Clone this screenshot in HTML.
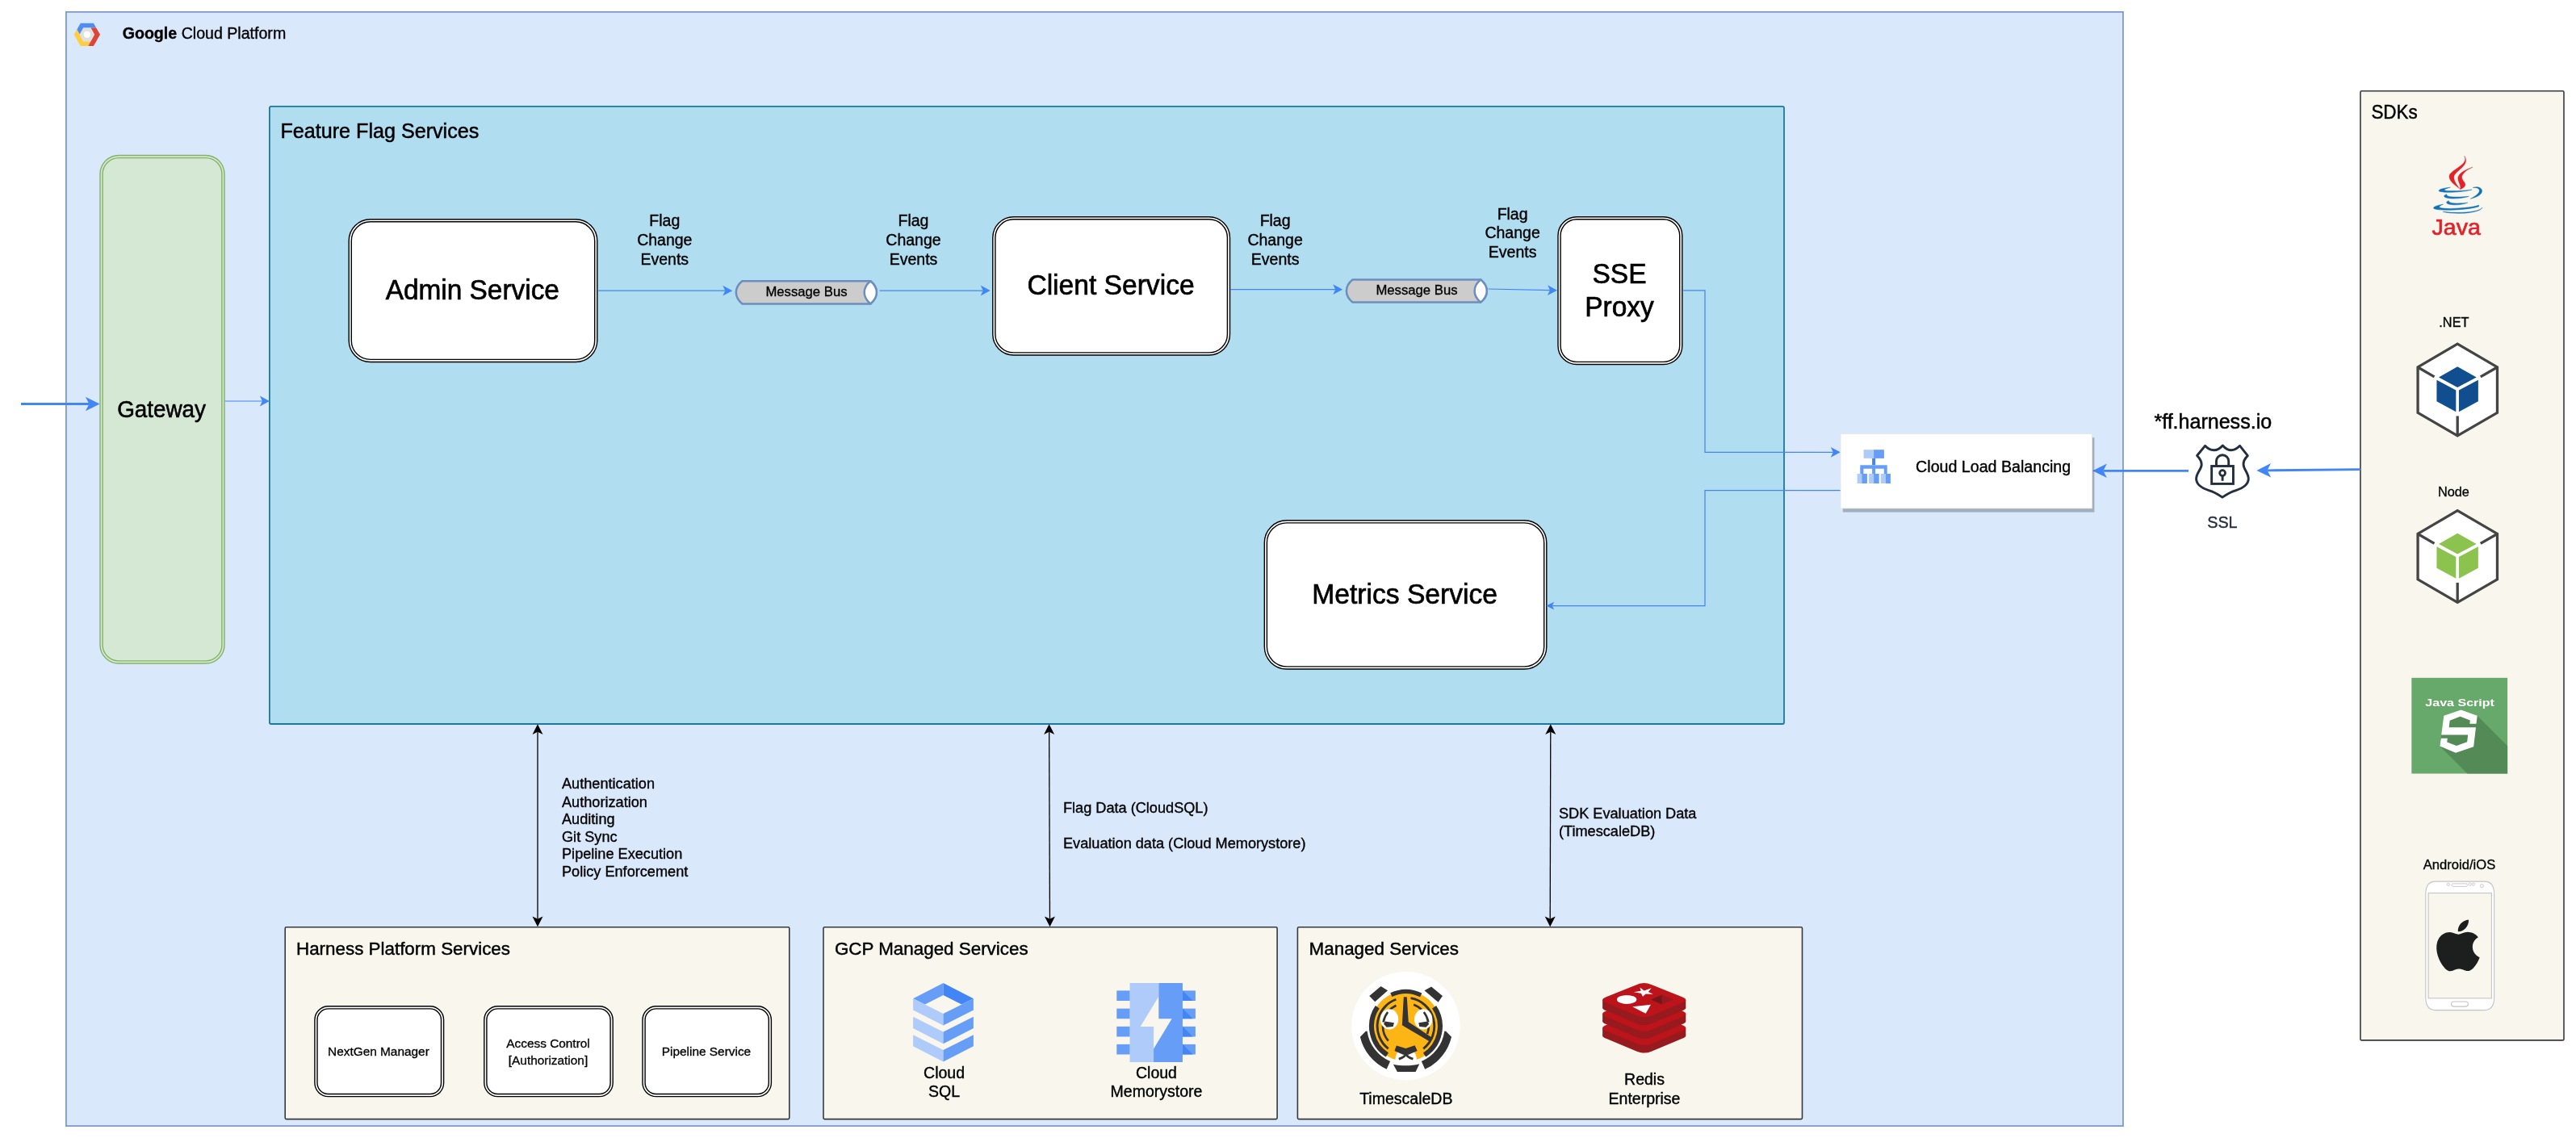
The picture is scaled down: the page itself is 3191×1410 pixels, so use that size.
<!DOCTYPE html>
<html lang="en"><head><meta charset="utf-8"><title>Feature Flags Architecture</title>
<style>
html,body{margin:0;padding:0;background:#fff;}
body{width:3191px;height:1410px;overflow:hidden;}
svg{display:block;font-family:"Liberation Sans", sans-serif;will-change:transform;}
</style></head><body>
<svg width="3191" height="1410" viewBox="0 0 3191 1410">
<rect x="81.90" y="14.80" width="2548.05" height="1380.30" fill="#dae8fc" stroke="#7896c8" stroke-width="1.7" />
<rect x="333.90" y="131.90" width="1876.10" height="765.10" fill="#b1ddf0" stroke="#1a78a2" stroke-width="1.8" rx="2"/>
<rect x="2923.95" y="112.80" width="252.05" height="1176.10" fill="#f9f7ed" stroke="#36393d" stroke-width="1.6" rx="1.5"/>
<rect x="353.20" y="1148.70" width="624.60" height="237.90" fill="#f9f7ed" stroke="#36393d" stroke-width="1.6" rx="1.5"/>
<rect x="1020.00" y="1148.70" width="562.10" height="237.90" fill="#f9f7ed" stroke="#36393d" stroke-width="1.6" rx="1.5"/>
<rect x="1607.40" y="1148.70" width="625.10" height="237.90" fill="#f9f7ed" stroke="#36393d" stroke-width="1.6" rx="1.5"/>
<polygon points="112.42,34.40 119.18,34.40 115.92,28.70 99.77,28.70 95.29,36.56 98.70,42.85 103.27,34.40" fill="#4f8df0" />
<polygon points="98.70,42.85 95.29,36.56 91.70,42.85 99.77,57.00 109.34,57.00 112.42,51.30 103.27,51.30" fill="#ffcd42" />
<polygon points="112.42,51.30 109.34,57.00 115.92,57.00 124.00,42.85 119.18,34.40 112.42,34.40 117.00,42.85" fill="#de4538" />
<polygon points="98.70,42.85 103.27,34.40 112.42,34.40 117.00,42.85 112.42,51.30 103.27,51.30" fill="#e0e0e0" />
<circle cx="107.85" cy="42.75" r="4.1" fill="#fff"/>
<text x="151.7" y="47.8" font-size="19.6" stroke="#000" stroke-width="0.35"><tspan font-weight="bold">Google</tspan> Cloud Platform</text>
<text transform="translate(347.40,171.10) scale(1,1.015)" font-size="25.15" text-anchor="start" fill="#000" stroke="#000" stroke-width="0.50" >Feature Flag Services</text>
<rect x="124.00" y="192.50" width="154.00" height="629.50" rx="23.10" fill="#d5e8d4" stroke="#82b366" stroke-width="1.4"/>
<rect x="127.10" y="195.60" width="147.80" height="623.30" rx="20.00" fill="#d5e8d4" stroke="#82b366" stroke-width="1.4"/>
<text transform="translate(200.10,517.20) scale(1,1.06)" font-size="27.85" text-anchor="middle" fill="#000" stroke="#000" stroke-width="0.56" >Gateway</text>
<rect x="432.20" y="271.70" width="307.60" height="176.80" rx="26.52" fill="#fff" stroke="#000" stroke-width="1.4"/>
<rect x="435.30" y="274.80" width="301.40" height="170.60" rx="23.42" fill="#fff" stroke="#000" stroke-width="1.4"/>
<text transform="translate(585.30,371.10) scale(1,1.04)" font-size="33.4" text-anchor="middle" fill="#000" stroke="#000" stroke-width="0.67" >Admin Service</text>
<rect x="1229.80" y="268.70" width="293.70" height="171.30" rx="25.70" fill="#fff" stroke="#000" stroke-width="1.4"/>
<rect x="1232.90" y="271.80" width="287.50" height="165.10" rx="22.59" fill="#fff" stroke="#000" stroke-width="1.4"/>
<text transform="translate(1376.00,364.90) scale(1,1.04)" font-size="33.6" text-anchor="middle" fill="#000" stroke="#000" stroke-width="0.67" >Client Service</text>
<rect x="1930.00" y="268.70" width="153.80" height="182.80" rx="23.07" fill="#fff" stroke="#000" stroke-width="1.4"/>
<rect x="1933.10" y="271.80" width="147.60" height="176.60" rx="19.97" fill="#fff" stroke="#000" stroke-width="1.4"/>
<text transform="translate(2006.00,351.30) scale(1,1.04)" font-size="33.5" text-anchor="middle" fill="#000" stroke="#000" stroke-width="0.67" >SSE</text>
<text transform="translate(2006.00,391.70) scale(1,1.04)" font-size="33.5" text-anchor="middle" fill="#000" stroke="#000" stroke-width="0.67" >Proxy</text>
<rect x="1566.30" y="644.80" width="349.50" height="184.20" rx="27.63" fill="#fff" stroke="#000" stroke-width="1.4"/>
<rect x="1569.40" y="647.90" width="343.30" height="178.00" rx="24.53" fill="#fff" stroke="#000" stroke-width="1.4"/>
<text transform="translate(1740.10,748.30) scale(1,1.04)" font-size="33.65" text-anchor="middle" fill="#000" stroke="#000" stroke-width="0.67" >Metrics Service</text>
<text x="823.30" y="280.00" font-size="19.5" text-anchor="middle" fill="#000" stroke="#000" stroke-width="0.39" >Flag</text>
<text x="823.30" y="303.70" font-size="19.5" text-anchor="middle" fill="#000" stroke="#000" stroke-width="0.39" >Change</text>
<text x="823.30" y="328.10" font-size="19.5" text-anchor="middle" fill="#000" stroke="#000" stroke-width="0.39" >Events</text>
<text x="1131.50" y="280.00" font-size="19.5" text-anchor="middle" fill="#000" stroke="#000" stroke-width="0.39" >Flag</text>
<text x="1131.50" y="303.70" font-size="19.5" text-anchor="middle" fill="#000" stroke="#000" stroke-width="0.39" >Change</text>
<text x="1131.50" y="328.10" font-size="19.5" text-anchor="middle" fill="#000" stroke="#000" stroke-width="0.39" >Events</text>
<text x="1579.60" y="280.00" font-size="19.5" text-anchor="middle" fill="#000" stroke="#000" stroke-width="0.39" >Flag</text>
<text x="1579.60" y="303.70" font-size="19.5" text-anchor="middle" fill="#000" stroke="#000" stroke-width="0.39" >Change</text>
<text x="1579.60" y="328.10" font-size="19.5" text-anchor="middle" fill="#000" stroke="#000" stroke-width="0.39" >Events</text>
<text x="1873.60" y="271.50" font-size="19.5" text-anchor="middle" fill="#000" stroke="#000" stroke-width="0.39" >Flag</text>
<text x="1873.60" y="295.20" font-size="19.5" text-anchor="middle" fill="#000" stroke="#000" stroke-width="0.39" >Change</text>
<text x="1873.60" y="318.90" font-size="19.5" text-anchor="middle" fill="#000" stroke="#000" stroke-width="0.39" >Events</text>
<path d="M919.40,348.30 L1078.30,348.30 C1082.86,351.95 1085.90,356.73 1085.90,362.35 C1085.90,367.97 1082.86,372.75 1078.30,376.40  L919.40,376.40 C914.84,372.75 911.80,367.97 911.80,362.35 C911.80,356.73 914.84,351.95 919.40,348.30  Z" fill="#cccccc" stroke="#6c8ebf" stroke-width="2.5" stroke-linejoin="round"/>
<path d="M1078.30,348.30 C1082.86,351.95 1085.90,356.73 1085.90,362.35 C1085.90,367.97 1082.86,372.75 1078.30,376.40  C1073.74,372.75 1070.70,367.97 1070.70,362.35 C1070.70,356.73 1073.74,351.95 1078.30,348.30  Z" fill="#fff" stroke="#6c8ebf" stroke-width="2.5" stroke-linejoin="round"/>
<text x="999.00" y="367.00" font-size="16.7" text-anchor="middle" fill="#000" stroke="#000" stroke-width="0.33" >Message Bus</text>
<path d="M1675.50,346.50 L1834.20,346.50 C1838.76,350.14 1841.80,354.90 1841.80,360.50 C1841.80,366.10 1838.76,370.86 1834.20,374.50  L1675.50,374.50 C1670.94,370.86 1667.90,366.10 1667.90,360.50 C1667.90,354.90 1670.94,350.14 1675.50,346.50  Z" fill="#cccccc" stroke="#6c8ebf" stroke-width="2.5" stroke-linejoin="round"/>
<path d="M1834.20,346.50 C1838.76,350.14 1841.80,354.90 1841.80,360.50 C1841.80,366.10 1838.76,370.86 1834.20,374.50  C1829.64,370.86 1826.60,366.10 1826.60,360.50 C1826.60,354.90 1829.64,350.14 1834.20,346.50  Z" fill="#fff" stroke="#6c8ebf" stroke-width="2.5" stroke-linejoin="round"/>
<text x="1755.00" y="364.90" font-size="16.7" text-anchor="middle" fill="#000" stroke="#000" stroke-width="0.33" >Message Bus</text>
<polyline points="740.40,360.10 898.30,360.19" fill="none" stroke="#4285f4" stroke-width="1.24" stroke-linejoin="miter"/>
<polygon points="907.30,360.20 895.30,366.59 898.30,360.19 895.30,353.79" fill="#4285f4"/>
<polyline points="1089.50,360.20 1217.70,360.01" fill="none" stroke="#4285f4" stroke-width="1.24" stroke-linejoin="miter"/>
<polygon points="1226.70,360.00 1214.71,366.42 1217.70,360.01 1214.69,353.62" fill="#4285f4"/>
<polyline points="1524.10,358.60 1654.20,358.69" fill="none" stroke="#4285f4" stroke-width="1.24" stroke-linejoin="miter"/>
<polygon points="1663.20,358.70 1651.20,365.09 1654.20,358.69 1651.20,352.29" fill="#4285f4"/>
<polyline points="1843.50,358.00 1920.00,359.61" fill="none" stroke="#4285f4" stroke-width="1.24" stroke-linejoin="miter"/>
<polygon points="1929.00,359.80 1916.87,365.95 1920.00,359.61 1917.14,353.15" fill="#4285f4"/>
<polyline points="278.60,497.00 324.90,497.00" fill="none" stroke="#4285f4" stroke-width="1.24" stroke-linejoin="miter"/>
<polygon points="333.90,497.00 321.90,503.40 324.90,497.00 321.90,490.60" fill="#4285f4"/>
<polyline points="2084.40,359.80 2112.00,359.80 2112.00,560.30 2270.80,560.30" fill="none" stroke="#4285f4" stroke-width="1.24" stroke-linejoin="miter"/>
<polygon points="2279.80,560.30 2267.80,566.70 2270.80,560.30 2267.80,553.90" fill="#4285f4"/>
<polyline points="2280.00,607.60 2112.00,607.60 2112.00,750.60 1922.80,750.60" fill="none" stroke="#4285f4" stroke-width="1.24" stroke-linejoin="miter"/>
<polygon points="1915.40,750.60 1925.20,745.70 1922.80,750.60 1925.20,755.50" fill="#4285f4"/>
<polyline points="26.00,500.50 110.40,500.50" fill="none" stroke="#4285f4" stroke-width="2.8" stroke-linejoin="miter"/>
<polygon points="123.60,500.50 105.90,509.30 110.40,500.50 105.90,491.70" fill="#4285f4"/>
<polyline points="2711.00,583.30 2605.40,583.30" fill="none" stroke="#4285f4" stroke-width="2.8" stroke-linejoin="miter"/>
<polygon points="2592.20,583.30 2609.90,574.50 2605.40,583.30 2609.90,592.10" fill="#4285f4"/>
<polyline points="2924.00,581.60 2808.60,582.86" fill="none" stroke="#4285f4" stroke-width="2.8" stroke-linejoin="miter"/>
<polygon points="2795.40,583.00 2813.00,574.01 2808.60,582.86 2813.19,591.61" fill="#4285f4"/>
<polyline points="666.00,906.80 666.00,1138.60" fill="none" stroke="#000" stroke-width="1.3" stroke-linejoin="miter"/>
<polygon points="666.00,1148.20 659.50,1135.40 666.00,1138.60 672.50,1135.40" fill="#000"/>
<polygon points="666.00,897.20 672.50,910.00 666.00,906.80 659.50,910.00" fill="#000"/>
<polyline points="1299.63,906.80 1300.47,1138.60" fill="none" stroke="#000" stroke-width="1.3" stroke-linejoin="miter"/>
<polygon points="1300.50,1148.20 1293.95,1135.42 1300.47,1138.60 1306.95,1135.38" fill="#000"/>
<polygon points="1299.60,897.20 1306.15,909.98 1299.63,906.80 1293.15,910.02" fill="#000"/>
<polyline points="1920.78,906.80 1920.22,1138.60" fill="none" stroke="#000" stroke-width="1.3" stroke-linejoin="miter"/>
<polygon points="1920.20,1148.20 1913.73,1135.38 1920.22,1138.60 1926.73,1135.42" fill="#000"/>
<polygon points="1920.80,897.20 1927.27,910.02 1920.78,906.80 1914.27,909.98" fill="#000"/>
<rect x="2282.8" y="542.2" width="311.6" height="92.4" fill="#000" opacity="0.25"/>
<rect x="2280.00" y="537.50" width="311.60" height="92.40" fill="#fff" stroke="#e4e4e4" stroke-width="0.8" />
<rect x="2308.60" y="557.20" width="12.50" height="10.70" fill="#aecbfa"/>
<rect x="2321.10" y="557.20" width="12.80" height="10.70" fill="#669df6"/>
<rect x="2319.10" y="567.90" width="4.00" height="8.40" fill="#4285f4"/>
<rect x="2304.30" y="576.30" width="33.40" height="4.40" fill="#669df6"/>
<rect x="2304.30" y="580.00" width="4.10" height="7.50" fill="#669df6"/>
<rect x="2319.10" y="580.00" width="4.00" height="7.50" fill="#669df6"/>
<rect x="2333.80" y="580.00" width="3.90" height="7.50" fill="#669df6"/>
<rect x="2300.60" y="587.00" width="5.70" height="12.00" fill="#aecbfa"/>
<rect x="2306.30" y="587.00" width="6.60" height="12.00" fill="#669df6"/>
<rect x="2315.10" y="587.00" width="6.00" height="12.00" fill="#aecbfa"/>
<rect x="2321.10" y="587.00" width="6.60" height="12.00" fill="#669df6"/>
<rect x="2329.70" y="587.00" width="6.30" height="12.00" fill="#aecbfa"/>
<rect x="2336.00" y="587.00" width="5.90" height="12.00" fill="#669df6"/>
<text x="2373.10" y="585.00" font-size="19.64" text-anchor="start" fill="#000" stroke="#000" stroke-width="0.39" >Cloud Load Balancing</text>
<text x="2668.40" y="531.30" font-size="25.05" text-anchor="start" fill="#000" stroke="#000" stroke-width="0.50" >*ff.harness.io</text>
<path d="M2753.32,551.95 C2756.30,555.31 2760.78,557.77 2763.92,557.77 C2767.88,557.77 2771.99,554.94 2774.60,552.32 L2784.31,564.65 C2780.20,568.75 2778.71,572.11 2779.08,575.85 C2779.45,581.82 2785.43,586.30 2785.28,593.40 C2785.06,599.75 2778.71,604.97 2769.75,607.59 C2763.02,609.45 2757.80,612.82 2752.94,616.18 C2748.09,612.82 2742.86,609.45 2736.14,607.59 C2727.18,604.97 2720.83,599.75 2720.60,593.40 C2720.46,586.30 2726.80,581.82 2727.18,575.85 C2727.40,572.11 2725.68,568.75 2721.58,564.50 L2731.51,552.32 C2733.90,554.94 2738.38,557.77 2742.49,557.77 C2745.70,557.77 2750.33,555.31 2753.32,551.95 Z" fill="none" stroke="#232f3e" stroke-width="2.9" stroke-linejoin="round"/>
<rect x="2739.65" y="577.49" width="26.81" height="21.96" fill="none" stroke="#232f3e" stroke-width="2.9"/>
<path d="M2745.47,576.97 L2745.47,571.37 A7.62,7.62 0 0 1 2760.71,571.37 L2760.71,576.97" fill="none" stroke="#232f3e" stroke-width="2.9"/>
<circle cx="2753.09" cy="586.08" r="3.44" fill="none" stroke="#232f3e" stroke-width="2.76"/>
<line x1="2753.09" y1="590.04" x2="2753.09" y2="595.79" stroke="#232f3e" stroke-width="2.9"/>
<text x="2752.90" y="653.70" font-size="19.8" text-anchor="middle" fill="#232f3e" stroke="#232f3e" stroke-width="0.40" >SSL</text>
<text transform="translate(2937.40,146.70) scale(1,1.07)" font-size="22.4" text-anchor="start" fill="#000" stroke="#000" stroke-width="0.45" >SDKs</text>
<path d="M3052.75,193.23 C3060.67,205.05 3040.62,211.90 3039.88,218.76 C3039.25,224.04 3043.26,228.79 3046.95,233.74 C3041.68,229.84 3033.76,224.57 3033.97,218.55 C3034.29,210.32 3059.08,204.52 3052.75,193.23 Z" fill="#e2222a" stroke="#e2222a" stroke-width="0.4"/>
<path d="M3063.09,207.16 C3054.86,210.32 3049.59,215.60 3049.59,219.82 C3049.59,223.51 3054.34,226.15 3053.81,229.31 C3053.60,231.42 3050.64,233.53 3047.27,234.80 C3049.59,230.37 3044.31,225.62 3044.84,220.35 C3045.37,215.07 3052.75,210.32 3063.09,207.16 Z" fill="#e2222a" stroke="#e2222a" stroke-width="0.4"/>
<path d="M3035.35,232.16 C3026.38,233.01 3020.89,234.59 3021.10,236.49 C3022.16,239.02 3047.48,239.02 3062.04,235.01 C3050.64,236.70 3029.54,237.33 3028.06,235.43 C3027.64,234.38 3031.65,233.01 3035.35,232.16 Z" fill="#1272b8" stroke="#1272b8" stroke-width="0.5"/>
<path d="M3063.30,232.48 C3068.58,230.58 3075.12,232.27 3074.49,237.23 C3073.86,241.45 3067.52,244.72 3060.35,246.19 C3067.52,242.50 3071.75,238.81 3071.32,235.64 C3070.90,233.01 3067.52,232.27 3063.30,232.48 Z" fill="#1272b8" stroke="#1272b8" stroke-width="0.5"/>
<path d="M3030.81,240.71 C3027.22,241.97 3026.59,243.66 3029.54,244.72 C3035.87,247.04 3050.64,245.98 3058.24,243.35 C3050.64,244.30 3034.82,244.51 3032.50,243.03 C3031.23,242.50 3030.60,241.55 3030.81,240.71 Z" fill="#1272b8" stroke="#1272b8" stroke-width="0.5"/>
<path d="M3033.34,248.73 C3029.96,249.78 3029.75,251.68 3032.71,252.74 C3039.04,254.85 3050.64,253.79 3056.76,251.05 C3050.64,252.10 3039.04,252.52 3035.45,250.94 C3033.97,250.41 3033.34,249.57 3033.34,248.73 Z" fill="#1272b8" stroke="#1272b8" stroke-width="0.5"/>
<path d="M3026.38,253.16 C3018.99,254.42 3013.93,256.11 3014.56,258.01 C3015.83,261.39 3052.75,261.18 3070.48,255.90 C3070.90,255.27 3070.69,254.63 3070.27,254.00 C3067.52,256.75 3034.82,259.70 3024.48,257.80 C3020.26,256.96 3021.10,255.06 3026.38,253.16 Z" fill="#1272b8" stroke="#1272b8" stroke-width="0.5"/>
<path d="M3026.17,262.34 C3042.20,266.45 3072.17,263.92 3074.91,257.17 C3071.75,262.65 3047.48,264.76 3026.17,262.34 Z" fill="#1272b8" stroke="#1272b8" stroke-width="0.5"/>
<text x="3012.60" y="291.00" font-size="28.5" text-anchor="start" fill="#e2222a" stroke="#e2222a" stroke-width="0.7">Java</text>
<text x="3039.90" y="404.80" font-size="16.3" text-anchor="middle" fill="#000" stroke="#000" stroke-width="0.33" >.NET</text>
<polygon points="3044.20,426.16 3093.48,454.86 3093.48,511.38 3044.20,539.93 2995.07,511.38 2995.07,454.86" fill="#fff" stroke="#444" stroke-width="3.3" stroke-linejoin="miter"/>
<line x1="2995.07" y1="455.00" x2="3015.51" y2="466.88" stroke="#444" stroke-width="3.3"/>
<line x1="3093.48" y1="455.00" x2="3072.75" y2="466.88" stroke="#444" stroke-width="3.3"/>
<line x1="3044.20" y1="539.49" x2="3044.20" y2="515.43" stroke="#444" stroke-width="3.3"/>
<polygon points="3044.20,454.28 3067.68,467.61 3044.20,479.93 3021.01,467.61" fill="#104e90" />
<polygon points="3018.41,470.80 3042.32,483.55 3042.32,510.36 3018.41,497.32" fill="#104e90" />
<polygon points="3045.94,483.55 3069.86,470.80 3069.86,497.32 3045.94,510.36" fill="#104e90" />
<text x="3039.40" y="615.00" font-size="16.3" text-anchor="middle" fill="#000" stroke="#000" stroke-width="0.33" >Node</text>
<polygon points="3044.20,632.66 3093.48,661.36 3093.48,717.88 3044.20,746.43 2995.07,717.88 2995.07,661.36" fill="#fff" stroke="#444" stroke-width="3.3" stroke-linejoin="miter"/>
<line x1="2995.07" y1="661.50" x2="3015.51" y2="673.38" stroke="#444" stroke-width="3.3"/>
<line x1="3093.48" y1="661.50" x2="3072.75" y2="673.38" stroke="#444" stroke-width="3.3"/>
<line x1="3044.20" y1="745.99" x2="3044.20" y2="721.93" stroke="#444" stroke-width="3.3"/>
<polygon points="3044.20,660.78 3067.68,674.11 3044.20,686.43 3021.01,674.11" fill="#8cc34f" />
<polygon points="3018.41,677.30 3042.32,690.05 3042.32,716.86 3018.41,703.82" fill="#8cc34f" />
<polygon points="3045.94,690.05 3069.86,677.30 3069.86,703.82 3045.94,716.86" fill="#8cc34f" />
<rect x="2987.30" y="839.84" width="118.80" height="118.68" fill="#67a96b"/>
<polygon points="3027.27,886.82 3048.55,879.44 3068.72,886.82 3106.10,924.21 3106.10,958.52 3056.42,958.52 3022.35,924.45" fill="#548a55" />
<polygon points="3027.27,886.82 3048.55,879.44 3068.72,886.82 3067.49,896.78 3059.37,896.78 3059.86,892.48 3047.56,887.80 3034.65,892.72 3033.66,901.33 3066.99,901.33 3064.16,925.31 3042.03,932.69 3022.35,924.45 3023.83,914.86 3031.82,914.86 3031.20,919.41 3043.01,924.08 3056.17,919.16 3057.15,910.56 3024.19,910.56" fill="#fff" />
<text x="3004.27" y="874.89" font-size="12.9" font-weight="bold" fill="#fff" textLength="85.7" lengthAdjust="spacingAndGlyphs">Java Script</text>
<text x="3046.50" y="1076.80" font-size="16.6" text-anchor="middle" fill="#000" stroke="#000" stroke-width="0.33" >Android/iOS</text>
<path d="M3016.77,1092.09 L3077.69,1092.09 C3085.69,1092.09 3089.69,1098.09 3089.69,1108.09 L3089.69,1235.59 C3089.69,1245.59 3085.69,1251.59 3077.69,1251.59 L3016.77,1251.59 C3008.77,1251.59 3004.77,1245.59 3004.77,1235.59 L3004.77,1108.09 C3004.77,1098.09 3008.77,1092.09 3016.77,1092.09 Z" fill="#fff" stroke="#c4c4c4" stroke-width="1.1"/>
<rect x="3008.09" y="1106.49" width="78.27" height="130.33" fill="#f9f7ed" stroke="#c4c4c4" stroke-width="1.1"/>
<rect x="3037.07" y="1094.86" width="19.38" height="3.51" rx="1.75" fill="#fff" stroke="#c4c4c4" stroke-width="0.9"/>
<circle cx="3032.83" cy="1095.78" r="1.66" fill="#fff" stroke="#c4c4c4" stroke-width="0.9"/>
<circle cx="3059.60" cy="1095.60" r="1.66" fill="#fff" stroke="#c4c4c4" stroke-width="0.9"/>
<circle cx="3063.84" cy="1095.60" r="1.66" fill="#fff" stroke="#c4c4c4" stroke-width="0.9"/>
<circle cx="3074.36" cy="1097.63" r="2.03" fill="#fff" stroke="#c4c4c4" stroke-width="0.9"/>
<rect x="3036.52" y="1241.07" width="20.86" height="6.09" rx="3.05" fill="#fff" stroke="#c4c4c4" stroke-width="1.1"/>
<g transform="translate(3012.10,1139.50) scale(2.7338,2.6542)"><path fill="#1d1f1e" d="M12.152 6.896c-.948 0-2.415-1.078-3.96-1.04-2.04.027-3.91 1.183-4.961 3.014-2.117 3.675-.546 9.103 1.519 12.09 1.013 1.454 2.208 3.09 3.792 3.039 1.52-.065 2.09-.987 3.935-.987 1.831 0 2.35.987 3.96.948 1.637-.026 2.676-1.48 3.676-2.948 1.156-1.688 1.636-3.325 1.662-3.415-.039-.013-3.182-1.221-3.22-4.857-.026-3.04 2.48-4.494 2.597-4.559-1.429-2.09-3.623-2.324-4.39-2.376-2-.156-3.675 1.09-4.61 1.09zM15.53 3.83c.843-1.012 1.4-2.427 1.245-3.83-1.207.052-2.662.805-3.532 1.818-.78.896-1.454 2.338-1.273 3.714 1.338.104 2.715-.688 3.559-1.701"/></g>
<text x="696.00" y="976.80" font-size="18.15" text-anchor="start" fill="#000" stroke="#000" stroke-width="0.36" >Authentication</text>
<text x="696.00" y="1000.20" font-size="18.15" text-anchor="start" fill="#000" stroke="#000" stroke-width="0.36" >Authorization</text>
<text x="696.00" y="1021.10" font-size="18.15" text-anchor="start" fill="#000" stroke="#000" stroke-width="0.36" >Auditing</text>
<text x="696.00" y="1042.90" font-size="18.15" text-anchor="start" fill="#000" stroke="#000" stroke-width="0.36" >Git Sync</text>
<text x="696.00" y="1064.40" font-size="18.15" text-anchor="start" fill="#000" stroke="#000" stroke-width="0.36" >Pipeline Execution</text>
<text x="696.00" y="1086.30" font-size="18.15" text-anchor="start" fill="#000" stroke="#000" stroke-width="0.36" >Policy Enforcement</text>
<text x="1317.00" y="1007.20" font-size="18.15" text-anchor="start" fill="#000" stroke="#000" stroke-width="0.36" >Flag Data (CloudSQL)</text>
<text x="1317.00" y="1050.80" font-size="18.15" text-anchor="start" fill="#000" stroke="#000" stroke-width="0.36" >Evaluation data (Cloud Memorystore)</text>
<text x="1931.00" y="1014.10" font-size="18.15" text-anchor="start" fill="#000" stroke="#000" stroke-width="0.36" >SDK Evaluation Data</text>
<text x="1931.00" y="1036.00" font-size="18.15" text-anchor="start" fill="#000" stroke="#000" stroke-width="0.36" >(TimescaleDB)</text>
<text transform="translate(367.00,1183.00) scale(1,1.02)" font-size="22.4" text-anchor="start" fill="#000" stroke="#000" stroke-width="0.45" >Harness Platform Services</text>
<text transform="translate(1033.90,1183.00) scale(1,1.02)" font-size="22.4" text-anchor="start" fill="#000" stroke="#000" stroke-width="0.45" >GCP Managed Services</text>
<text transform="translate(1621.60,1183.00) scale(1,1.02)" font-size="22.4" text-anchor="start" fill="#000" stroke="#000" stroke-width="0.45" >Managed Services</text>
<rect x="389.90" y="1246.80" width="159.70" height="111.80" rx="16.77" fill="#fff" stroke="#000" stroke-width="1.4"/>
<rect x="393.00" y="1249.90" width="153.50" height="105.60" rx="13.67" fill="#fff" stroke="#000" stroke-width="1.4"/>
<text x="468.90" y="1308.30" font-size="15.4" text-anchor="middle" fill="#000" stroke="#000" stroke-width="0.31" >NextGen Manager</text>
<rect x="599.80" y="1246.80" width="159.40" height="111.80" rx="16.77" fill="#fff" stroke="#000" stroke-width="1.4"/>
<rect x="602.90" y="1249.90" width="153.20" height="105.60" rx="13.67" fill="#fff" stroke="#000" stroke-width="1.4"/>
<text x="679.00" y="1298.10" font-size="15.4" text-anchor="middle" fill="#000" stroke="#000" stroke-width="0.31" >Access Control</text>
<text x="679.00" y="1319.30" font-size="15.4" text-anchor="middle" fill="#000" stroke="#000" stroke-width="0.31" >[Authorization]</text>
<rect x="796.00" y="1246.80" width="159.40" height="111.80" rx="16.77" fill="#fff" stroke="#000" stroke-width="1.4"/>
<rect x="799.10" y="1249.90" width="153.20" height="105.60" rx="13.67" fill="#fff" stroke="#000" stroke-width="1.4"/>
<text x="875.00" y="1308.30" font-size="15.4" text-anchor="middle" fill="#000" stroke="#000" stroke-width="0.31" >Pipeline Service</text>
<polygon points="1168.48,1217.88 1131.11,1237.27 1145.76,1244.55 1168.48,1233.03" fill="#669df6" />
<polygon points="1168.48,1217.88 1205.86,1237.27 1191.21,1244.55 1168.48,1233.03" fill="#4285f4" />
<polygon points="1131.11,1237.27 1168.48,1255.96 1168.48,1270.61 1131.11,1251.41" fill="#aecbfa" />
<polygon points="1205.86,1237.27 1168.48,1255.96 1168.48,1270.61 1205.86,1251.41" fill="#669df6" />
<polygon points="1131.11,1259.80 1168.48,1278.48 1168.48,1293.13 1131.11,1273.94" fill="#aecbfa" />
<polygon points="1205.86,1259.80 1168.48,1278.48 1168.48,1293.13 1205.86,1273.94" fill="#669df6" />
<polygon points="1131.11,1282.22 1168.48,1300.91 1168.48,1315.56 1131.11,1296.36" fill="#aecbfa" />
<polygon points="1205.86,1282.22 1168.48,1300.91 1168.48,1315.56 1205.86,1296.36" fill="#669df6" />
<text x="1169.60" y="1336.00" font-size="19.5" text-anchor="middle" fill="#000" stroke="#000" stroke-width="0.39" >Cloud</text>
<text x="1169.60" y="1359.10" font-size="19.5" text-anchor="middle" fill="#000" stroke="#000" stroke-width="0.39" >SQL</text>
<polygon points="1399.56,1217.88 1435.33,1217.88 1435.33,1234.76 1412.59,1271.94 1429.06,1271.94 1429.06,1315.90 1399.56,1315.90" fill="#aecbfa" />
<polygon points="1435.33,1217.88 1464.94,1217.88 1464.94,1315.90 1429.06,1315.90 1429.06,1299.43 1451.60,1262.24 1435.33,1262.24" fill="#669df6" />
<polygon points="1383.29,1227.38 1399.56,1227.38 1399.56,1240.01 1383.29,1240.01" fill="#669df6" />
<polygon points="1464.94,1227.38 1480.90,1227.38 1480.90,1240.01 1464.94,1240.01" fill="#669df6" />
<polygon points="1464.94,1227.38 1477.57,1240.01 1464.94,1240.01" fill="#4285f4" />
<polygon points="1383.29,1249.61 1399.56,1249.61 1399.56,1262.24 1383.29,1262.24" fill="#669df6" />
<polygon points="1464.94,1249.61 1480.90,1249.61 1480.90,1262.24 1464.94,1262.24" fill="#669df6" />
<polygon points="1464.94,1249.61 1477.57,1262.24 1464.94,1262.24" fill="#4285f4" />
<polygon points="1383.29,1271.84 1399.56,1271.84 1399.56,1284.47 1383.29,1284.47" fill="#669df6" />
<polygon points="1464.94,1271.84 1480.90,1271.84 1480.90,1284.47 1464.94,1284.47" fill="#669df6" />
<polygon points="1464.94,1271.84 1477.57,1284.47 1464.94,1284.47" fill="#4285f4" />
<polygon points="1383.29,1293.87 1399.56,1293.87 1399.56,1306.50 1383.29,1306.50" fill="#669df6" />
<polygon points="1464.94,1293.87 1480.90,1293.87 1480.90,1306.50 1464.94,1306.50" fill="#669df6" />
<polygon points="1464.94,1293.87 1477.57,1306.50 1464.94,1306.50" fill="#4285f4" />
<text x="1432.50" y="1336.00" font-size="19.5" text-anchor="middle" fill="#000" stroke="#000" stroke-width="0.39" >Cloud</text>
<text x="1432.50" y="1359.10" font-size="19.5" text-anchor="middle" fill="#000" stroke="#000" stroke-width="0.39" >Memorystore</text>
<circle cx="1741.45" cy="1271.18" r="67.22" fill="#fff"/>
<g transform="translate(1665,1195) scale(0.13180)">
<circle cx="580" cy="580" r="330" fill="#fdb515"/>
<polygon points="345,205 410,245 290,350 237,295" fill="#333333"/>
<polygon points="820,208 925,295 885,355 755,245" fill="#333333"/>
<path d="M442.6,285.4 A325,325 0 0 1 722.5,287.9" fill="none" stroke="#333333" stroke-width="40"/>
<path d="M313.0,399.9 A322,322 0 0 0 404.6,850.1" fill="none" stroke="#333333" stroke-width="46"/>
<path d="M847.0,399.9 A322,322 0 0 1 755.4,850.1" fill="none" stroke="#333333" stroke-width="46"/>
<path d="M488.3,328.2 A268,268 0 0 0 415.0,791.2" fill="none" stroke="#333333" stroke-width="22"/>
<path d="M626.5,316.1 A268,268 0 0 1 745.0,791.2" fill="none" stroke="#333333" stroke-width="22"/>
<path d="M489.1,385.1 A215,215 0 0 0 415.3,718.2" fill="none" stroke="#333333" stroke-width="20"/>
<path d="M653.5,378.0 A215,215 0 0 1 782.0,653.5" fill="none" stroke="#333333" stroke-width="20"/>
<path d="M205.0,625.0 L150.7,680.7 A443,443 0 0 0 399.8,984.7 L432.8,910.7 A362,362 0 0 1 217.1,627.8 Z" fill="#333333"/>
<path d="M955.0,625.0 L1009.3,680.7 A443,443 0 0 1 760.2,984.7 L727.2,910.7 A362,362 0 0 0 942.9,627.8 Z" fill="#333333"/>
<ellipse cx="425" cy="515" rx="85" ry="95" fill="#fff"/>
<ellipse cx="745" cy="515" rx="85" ry="95" fill="#fff"/>
<path d="M410.6,447.6 A215,215 0 0 0 368.3,542.7" fill="none" stroke="#333333" stroke-width="20"/>
<path d="M749.4,447.6 A215,215 0 0 1 791.7,542.7" fill="none" stroke="#333333" stroke-width="20"/>
<path d="M385,535 L470,548 L460,585 L400,590 L372,560 Z" fill="#333333"/>
<path d="M785,535 L700,548 L708,585 L770,590 L798,560 Z" fill="#333333"/>
<path d="M560,305 L590,305 L605,540 L830,690 L805,725 L545,570 Z" fill="#333333"/>
<path d="M481,904 C481,862 494,832 512,816 L650,816 C668,832 683,862 683,904 L683,925 L481,925 Z" fill="#fff"/>
<path d="M492,762 L580,790 L665,760 L688,812 L605,848 L555,848 L474,812 Z" fill="#333333"/>
<path d="M581,835 C576,868 545,880 514,889 M581,835 C586,868 617,880 648,889" stroke="#333333" stroke-width="21" fill="none"/>
<path d="M462,938 C540,955 630,955 708,935 L672,1010 L500,1010 Z" fill="#333333"/>
</g>
<text x="1741.80" y="1367.50" font-size="19.5" text-anchor="middle" fill="#000" stroke="#000" stroke-width="0.39" >TimescaleDB</text>
<g transform="translate(1975,1210) scale(0.09225)">
<path d="M158.6,833.3 Q61.4,793.0 158.6,753.9 L571.8,587.6 Q669.0,548.4 766.2,587.6 L1179.4,753.9 Q1276.6,793.0 1179.4,833.3 L766.2,1004.8 Q669.0,1045.2 571.8,1004.8 Z" fill="#961a1e"/>
<rect x="110" y="690.0" width="1118" height="103.0" fill="#961a1e"/>
<path d="M158.6,730.3 Q61.4,690.0 158.6,650.9 L571.8,484.6 Q669.0,445.4 766.2,484.6 L1179.4,650.9 Q1276.6,690.0 1179.4,730.3 L766.2,901.8 Q669.0,942.2 571.8,901.8 Z" fill="#bc141a"/>
<path d="M158.6,640.9 Q61.4,600.0 158.6,560.9 L571.8,394.6 Q669.0,355.4 766.2,394.6 L1179.4,560.9 Q1276.6,600.0 1179.4,640.9 L766.2,814.6 Q669.0,855.4 571.8,814.6 Z" fill="#961a1e"/>
<rect x="110" y="500.0" width="1118" height="100.0" fill="#961a1e"/>
<path d="M158.6,540.9 Q61.4,500.0 158.6,460.9 L571.8,294.6 Q669.0,255.4 766.2,294.6 L1179.4,460.9 Q1276.6,500.0 1179.4,540.9 L766.2,714.6 Q669.0,755.4 571.8,714.6 Z" fill="#bc141a"/>
<path d="M158.6,459.3 Q61.4,419.0 158.6,379.9 L571.8,213.6 Q669.0,174.4 766.2,213.6 L1179.4,379.9 Q1276.6,419.0 1179.4,459.3 L766.2,630.8 Q669.0,671.2 571.8,630.8 Z" fill="#961a1e"/>
<rect x="110" y="313.0" width="1118" height="106.0" fill="#961a1e"/>
<path d="M158.6,353.3 Q61.4,313.0 158.6,273.9 L571.8,107.6 Q669.0,68.4 766.2,107.6 L1179.4,273.9 Q1276.6,313.0 1179.4,353.3 L766.2,524.8 Q669.0,565.2 571.8,524.8 Z" fill="#bc141a"/>
<ellipse cx="435" cy="308" rx="132" ry="60" fill="#fff"/>
<polygon points="510,405 758,378 690,497" fill="#fff"/>
<polygon points="612,145 668,190 765,155 725,205 790,235 690,232 650,268 628,225 528,210 625,192" fill="#fff"/>
<polygon points="760,308 908,245 908,375" fill="#74161a"/>
<polygon points="908,245 1062,308 908,375" fill="#961a1e"/>
</g>
<text x="2037.00" y="1343.70" font-size="19.5" text-anchor="middle" fill="#000" stroke="#000" stroke-width="0.39" >Redis</text>
<text x="2037.00" y="1367.50" font-size="19.5" text-anchor="middle" fill="#000" stroke="#000" stroke-width="0.39" >Enterprise</text>
</svg></body></html>
